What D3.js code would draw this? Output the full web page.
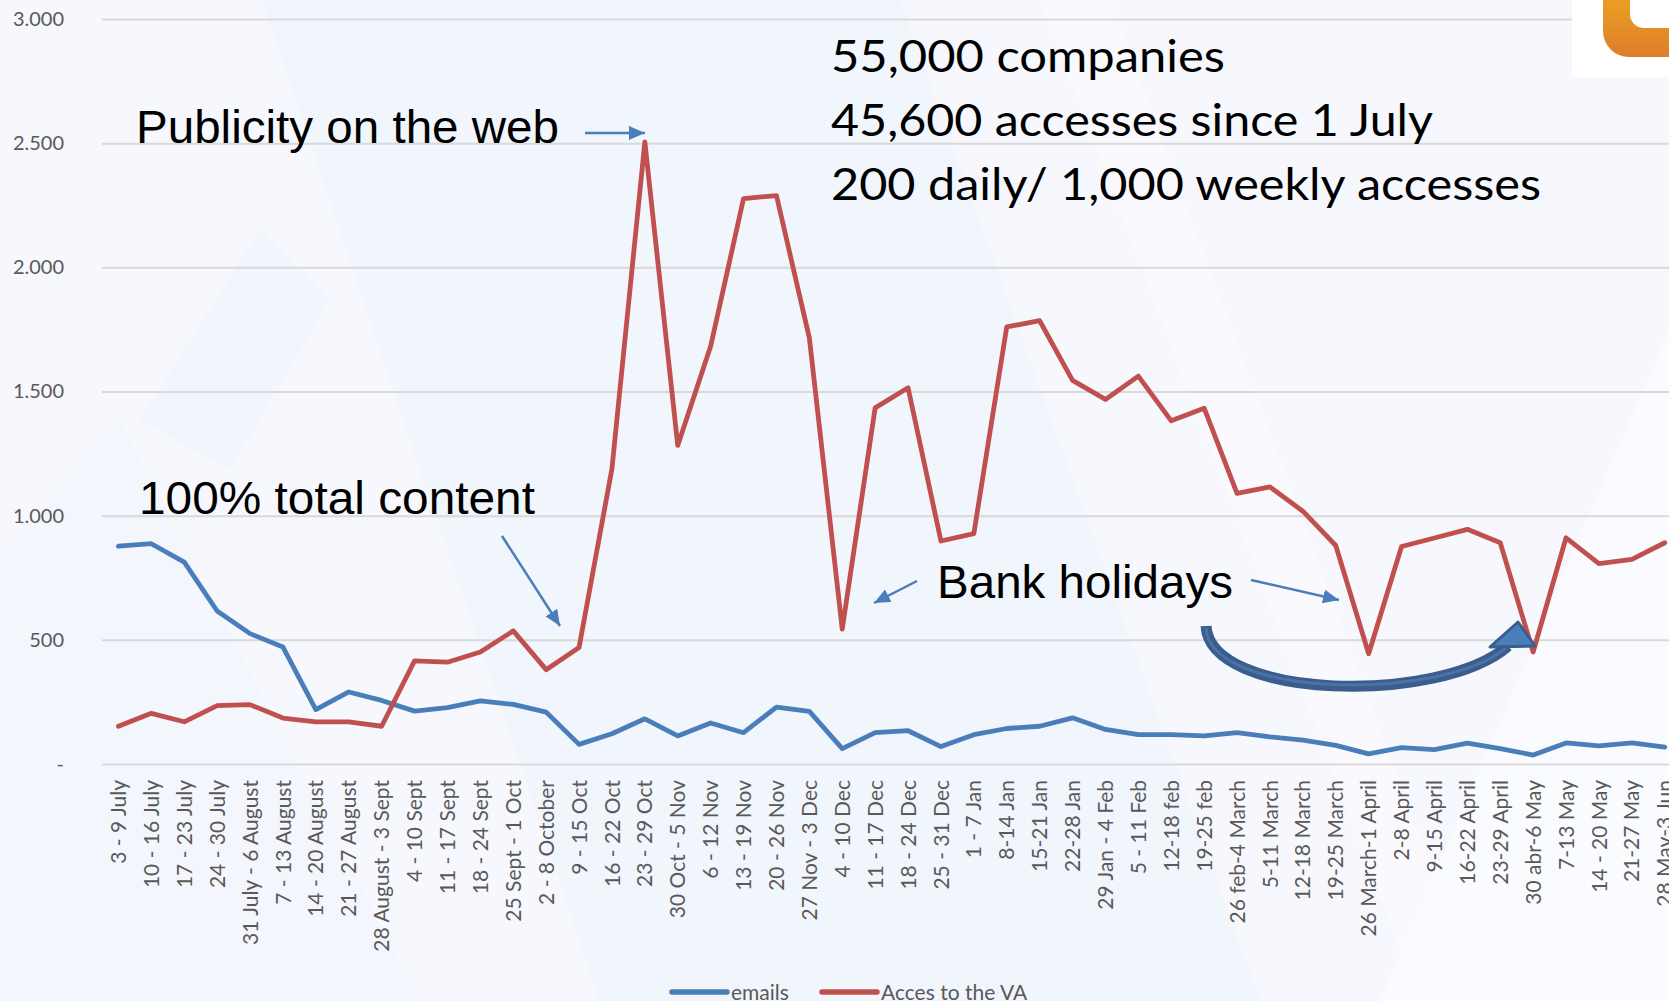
<!DOCTYPE html>
<html>
<head>
<meta charset="utf-8" />
<title>Virtual assistant accesses</title>
<script src="https://d3js.org/d3.v7.min.js"></script>
<style type="text/css">
body { margin: 0; background: #f5f7fc; }
svg { display: block; }
.tick text { fill: #595959; font-family: Lato, "Open Sans", sans-serif; }
</style>
</head>
<body>
<div id="chart"></div>
<script type="text/javascript">
var width = 1669,
    height = 1001,
    left = 102,
    band = 32.9;

var weeks = ["3 - 9 July", "10 - 16 July", "17 - 23 July", "24 - 30 July", "31 July - 6 August",
  "7 - 13 August", "14 - 20 August", "21 - 27 August", "28 August - 3 Sept", "4 - 10 Sept",
  "11 - 17 Sept", "18 - 24 Sept", "25 Sept - 1 Oct", "2 - 8 October", "9 - 15 Oct",
  "16 - 22 Oct", "23 - 29 Oct", "30 Oct - 5 Nov", "6 - 12 Nov", "13 - 19 Nov",
  "20 - 26 Nov", "27 Nov - 3 Dec", "4 - 10 Dec", "11 - 17 Dec", "18 - 24 Dec",
  "25 - 31 Dec", "1 - 7 Jan", "8-14 Jan", "15-21 Jan", "22-28 Jan",
  "29 Jan - 4 Feb", "5 - 11 Feb", "12-18 feb", "19-25 feb", "26 feb-4 March",
  "5-11 March", "12-18 March", "19-25 March", "26 March-1 April", "2-8 April",
  "9-15 April", "16-22 April", "23-29 April", "30 abr-6 May", "7-13 May",
  "14 - 20 May", "21-27 May", "28 May-3 Jun"];

var emails = [877, 887, 813, 616, 525, 471, 219, 290, 256, 213,
  227, 254, 240, 209, 79, 122, 182, 113, 165, 126,
  229, 212, 62, 126, 134, 70, 118, 143, 152, 186,
  139, 118, 118, 113, 126, 109, 96, 75, 41, 66,
  58, 84, 62, 36, 85, 73, 85, 68];

var accesses = [152, 204, 170, 235, 239, 185, 170, 170, 152, 415,
  410, 451, 536, 380, 469, 1189, 2505, 1283, 1682, 2277,
  2289, 1716, 543, 1434, 1515, 898, 928, 1760, 1785, 1545,
  1468, 1562, 1382, 1433, 1090, 1116, 1018, 880, 444, 876,
  910, 945, 891, 451, 911, 807, 824, 891];

var yTicks = [0, 500, 1000, 1500, 2000, 2500, 3000];
var yTickLabels = ["-", "500", "1.000", "1.500", "2.000", "2.500", "3.000"];
var seriesNames = ["emails", "Acces to the VA"];
var seriesColors = ["#4a7ebb", "#c0504d"];
var infoLines = ["55,000 companies", "45,600 accesses since 1 July", "200 daily/ 1,000 weekly accesses"];

var svg = d3.select("#chart")
    .append("svg")
    .attr("width", width)
    .attr("height", height);

// faint watermark background
var bg = svg.append("g");
bg.append("rect").attr("width", width).attr("height", height).attr("fill", "#f7f8fd");
bg.append("path").attr("d", "M262,0 L900,0 L1260,1001 L600,1001 Z").attr("fill", "#ebf1fb").attr("opacity", 0.5);
bg.append("path").attr("d", "M0,560 L120,420 L420,1001 L0,1001 Z").attr("fill", "#ebf1fb").attr("opacity", 0.3);
bg.append("path").attr("d", "M1380,1001 L1669,330 L1669,1001 Z").attr("fill", "#fbfcff").attr("opacity", 0.7);
bg.append("path").attr("d", "M1040,0 L1110,0 L1480,1001 L1420,1001 Z").attr("fill", "#fbfcff").attr("opacity", 0.6);
bg.append("path").attr("d", "M140,420 L260,230 L330,300 L230,470 Z").attr("fill", "#e6edf9").attr("opacity", 0.2);

var x = d3.scaleBand()
    .domain(weeks)
    .range([left, left + band * weeks.length]);

var cx = d => x(d) + x.bandwidth() / 2;

var y = d3.scaleLinear()
    .domain([0, 3000])
    .range([764, 19]);

var yAxis = d3.axisLeft(y)
    .tickValues(yTicks)
    .tickSize(-(width - left))
    .tickPadding(38)
    .tickFormat((d, i) => yTickLabels[i]);

var gY = svg.append("g")
    .attr("transform", "translate(" + left + ",0)")
    .call(yAxis);
gY.select(".domain").remove();
gY.selectAll(".tick line").attr("stroke", "#d9d9d9").attr("stroke-width", 2);
gY.selectAll(".tick text").attr("font-size", 20);

var xAxis = d3.axisBottom(x).tickSize(0);
var gX = svg.append("g")
    .attr("transform", "translate(0," + y(0) + ")")
    .call(xAxis);
gX.select(".domain").remove();
gX.selectAll(".tick text")
    .attr("font-size", 21)
    .attr("text-anchor", "end")
    .attr("transform", "rotate(-90)")
    .attr("x", -16)
    .attr("y", 0)
    .attr("dy", "0.36em");

var line = d3.line()
    .x((d, i) => cx(weeks[i]))
    .y(d => y(d));

[emails, accesses].forEach(function(s, i) {
  svg.append("path")
      .datum(s)
      .attr("d", line)
      .attr("fill", "none")
      .attr("stroke", seriesColors[i])
      .attr("stroke-width", 4.8)
      .attr("stroke-linejoin", "round")
      .attr("stroke-linecap", "round");
});

// legend
var legend = svg.append("g");
[[672, 731], [822, 881]].forEach(function(p, i) {
  legend.append("line")
      .attr("x1", p[0]).attr("x2", p[0] + 55)
      .attr("y1", 992).attr("y2", 992)
      .attr("stroke", seriesColors[i])
      .attr("stroke-width", 5.5)
      .attr("stroke-linecap", "round");
  legend.append("text")
      .attr("x", p[1]).attr("y", 1000)
      .attr("font-family", "Lato, sans-serif")
      .attr("font-size", 21)
      .attr("fill", "#595959")
      .text(seriesNames[i]);
});

// arrows
var defs = svg.append("defs");
defs.append("marker")
    .attr("id", "head")
    .attr("markerUnits", "userSpaceOnUse")
    .attr("viewBox", "0 0 16 14")
    .attr("refX", 16).attr("refY", 7)
    .attr("markerWidth", 16).attr("markerHeight", 14)
    .attr("orient", "auto")
  .append("path")
    .attr("d", "M0,0 L16,7 L0,14 Z")
    .attr("fill", "#4a7ebb");

var arrows = [[585, 133, 645, 133], [502, 536, 560, 626], [917, 581, 874, 603], [1251, 580, 1339, 600]];
arrows.forEach(function(a) {
  svg.append("line")
      .attr("x1", a[0]).attr("y1", a[1])
      .attr("x2", a[2]).attr("y2", a[3])
      .attr("stroke", "#4a7ebb")
      .attr("stroke-width", 2.5)
      .attr("marker-end", "url(#head)");
});

// curved block arrow
svg.append("path")
    .attr("d", "M1206,626 C1210,700 1440,705 1508,646")
    .attr("fill", "none")
    .attr("stroke", "#3a5d8c")
    .attr("stroke-width", 11);
svg.append("path")
    .attr("d", "M1206,628 C1210,698 1440,702 1506,648")
    .attr("fill", "none")
    .attr("stroke", "#4a72a6")
    .attr("stroke-width", 3);
svg.append("path")
    .attr("d", "M1490,647 L1518,622 L1535,646 Z")
    .attr("fill", "#4a7ebb")
    .attr("stroke", "#3a5d8c")
    .attr("stroke-width", 3)
    .attr("stroke-linejoin", "round");

// annotation texts
var notes = [["Publicity on the web", 136, 143, 423], ["100% total content", 139, 514, 396], ["Bank holidays", 937, 598, 296]];
notes.forEach(function(n) {
  svg.append("text")
      .attr("x", n[1]).attr("y", n[2])
      .attr("font-family", "'Liberation Sans', Arial, sans-serif")
      .attr("font-size", 46)
      .attr("textLength", n[3])
      .attr("lengthAdjust", "spacingAndGlyphs")
      .attr("fill", "#000")
      .text(n[0]);
});

var infoWidths = [394, 602, 710];
infoLines.forEach(function(t, i) {
  svg.append("text")
      .attr("x", 831).attr("y", 72 + i * 64)
      .attr("font-family", "Lato, 'Open Sans', sans-serif")
      .attr("font-size", 45)
      .attr("textLength", infoWidths[i])
      .attr("lengthAdjust", "spacingAndGlyphs")
      .attr("fill", "#000")
      .text(t);
});

// logo corner
svg.append("rect").attr("x", 1572).attr("y", 0).attr("width", 97).attr("height", 77).attr("fill", "#ffffff");
var grad = defs.append("linearGradient").attr("id", "logo").attr("x1", 0).attr("y1", 0).attr("x2", 0).attr("y2", 1);
grad.append("stop").attr("offset", "0%").attr("stop-color", "#f3b51c");
grad.append("stop").attr("offset", "100%").attr("stop-color", "#de7d2c");
svg.append("rect").attr("x", 1603).attr("y", -40).attr("width", 110).attr("height", 97).attr("rx", 26).attr("fill", "url(#logo)");
svg.append("rect").attr("x", 1630).attr("y", -40).attr("width", 90).attr("height", 68).attr("rx", 14).attr("fill", "#ffffff");
</script>
</body>
</html>
